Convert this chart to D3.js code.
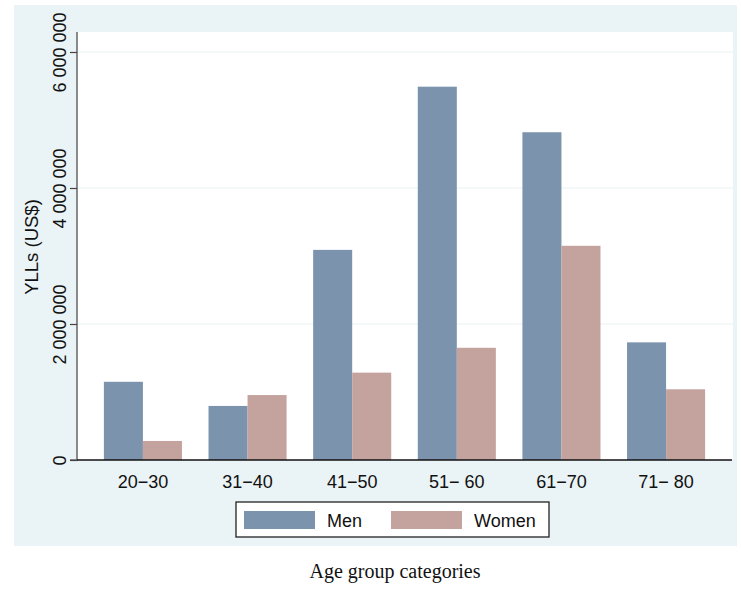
<!DOCTYPE html>
<html><head><meta charset="utf-8">
<script src="https://cdn.jsdelivr.net/npm/d3@7"></script>
<style>body{margin:0;background:#fff}svg{display:block}</style>
</head><body>
<svg id="c" width="741" height="607"></svg>
<script>
const categories = ["20\u221230","31\u221240","41\u221250","51\u2212 60","61\u221270","71\u2212 80"];
const men =   [1150000, 795000, 3090000, 5490000, 4820000, 1730000];
const women = [ 280000, 955000, 1285000, 1650000, 3150000, 1040000];
const seriesNames = ["Men","Women"];
const yTicks = [0, 2000000, 4000000, 6000000];
const yTickLabels = ["0","2 000 000","4 000 000","6 000 000"];

const colors = ["#7b93ad","#c4a29d"];
const FONT = "Arial, 'Liberation Sans', sans-serif";
const svg = d3.select("#c");
const L = 77, R = 733, T = 32, B = 460;

svg.append("rect").attr("x",14).attr("y",5).attr("width",723).attr("height",541).attr("fill","#eaf3f5");
svg.append("rect").attr("x",L).attr("y",T).attr("width",R-L).attr("height",B-T).attr("fill","#fff");

const x = d3.scaleBand().domain(categories).range([L, 732]).paddingInner(0.254).paddingOuter(0.257);
const xs = d3.scaleBand().domain(seriesNames).range([0, x.bandwidth()]);
const y = d3.scaleLinear().domain([0, 6000000]).range([B, B - 408]);

// gridlines
svg.append("g").selectAll("line").data(yTicks.slice(1)).join("line")
  .attr("x1", L).attr("x2", R).attr("y1", d=>y(d)).attr("y2", d=>y(d))
  .attr("stroke","#e9f1f1").attr("stroke-width",1.2);

const data = categories.map((c,i)=>({c, vals:[men[i], women[i]]}));
const g = svg.append("g");
data.forEach(d=>{
  d.vals.forEach((v,j)=>{
    g.append("rect").attr("x", x(d.c)+xs(seriesNames[j])).attr("width", xs.bandwidth())
      .attr("y", y(v)).attr("height", B - y(v)).attr("fill", colors[j]);
  });
});

// y axis
const yAxis = d3.axisLeft(y).tickValues(yTicks).tickFormat((d,i)=>yTickLabels[i]).tickSize(7).tickPadding(0);
const ya = svg.append("g").attr("transform",`translate(${L},0)`).call(yAxis);
ya.attr("font-size",null).attr("font-family",null);
ya.select(".domain").attr("stroke","#666").attr("stroke-width",1.5).attr("d",`M-7,${B}H0V${T}`);
ya.selectAll(".tick line").attr("stroke","#444").attr("stroke-width",1.2);
ya.selectAll(".tick text").attr("transform", d=>`translate(-11,0) rotate(-90)`)
  .attr("x",0).attr("dy","0").attr("text-anchor","middle")
  .style("font-family",FONT).style("font-size","18px").attr("fill","#111");

// x axis
const xAxis = d3.axisBottom(x).tickSize(0).tickPadding(0);
const xa = svg.append("g").attr("transform",`translate(0,${B})`).call(xAxis);
xa.attr("font-size",null).attr("font-family",null);
xa.select(".domain").attr("stroke","#111").attr("stroke-width",1.5).attr("d",`M${L},0H732`);
xa.selectAll(".tick text").attr("y",28).attr("dy","0").style("font-family",FONT).style("font-size","18px").attr("fill","#111");

// y title
svg.append("text").attr("transform","translate(38,247) rotate(-90)").attr("text-anchor","middle")
  .style("font-family",FONT).style("font-size","18.5px").attr("fill","#111").text("YLLs (US$)");

// legend
const lg = svg.append("g");
lg.append("rect").attr("x",236).attr("y",502).attr("width",313).attr("height",35).attr("fill","#fff").attr("stroke","#222").attr("stroke-width",1.3);
const lx = [244, 391];
seriesNames.forEach((s,j)=>{
  lg.append("rect").attr("x",lx[j]).attr("y",511).attr("width",71).attr("height",18).attr("fill",colors[j]);
  lg.append("text").attr("x",lx[j]+83).attr("y",527).style("font-family",FONT)
    .style("font-size","18px").attr("fill","#111").text(s);
});

// x title
svg.append("text").attr("x",395).attr("y",578).attr("text-anchor","middle")
  .style("font-family","'Liberation Serif','Times New Roman',serif").style("font-size","20px").attr("fill","#111").text("Age group categories");
</script>
</body></html>
